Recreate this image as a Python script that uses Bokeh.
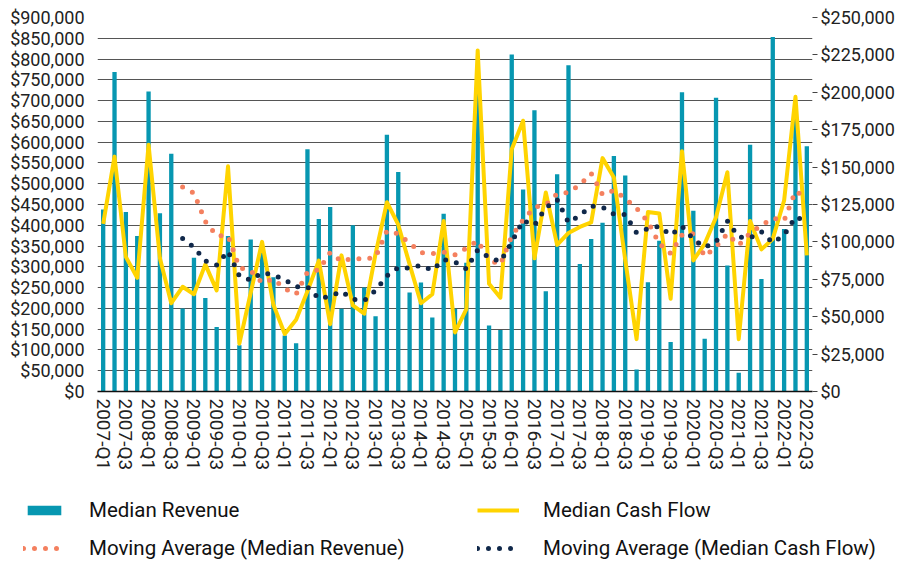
import pandas as pd
from bokeh.plotting import figure
from bokeh.layouts import column
from bokeh.models import (Range1d, LinearAxis, SingleIntervalTicker, NumeralTickFormatter,
                          FixedTicker, Legend, LegendItem, ColumnDataSource)
from bokeh.embed import file_html
from bokeh.resources import INLINE

# ---------------- data ----------------
years = list(range(2007, 2023))
quarters = [f"{y}-Q{q}" for y in years for q in range(1, 5)][:63]

median_revenue = [
    438000, 769000, 432000, 374000, 722000, 429000, 572000, 200000, 322000, 225000,
    155000, 374000, 111000, 366000, 340000, 275000, 135000, 116000, 583000, 415000,
    444000, 199000, 400000, 250000, 181000, 618000, 528000, 238000, 262000, 178000,
    428000, 199000, 310000, 760000, 159000, 148000, 811000, 486000, 677000, 241000,
    523000, 785000, 307000, 367000, 406000, 567000, 520000, 53000, 263000, 363000,
    119000, 720000, 435000, 127000, 707000, 303000, 45000, 594000, 271000, 853000,
    391000, 690000, 590000,
]

median_cash_flow = [
    112000, 157000, 90000, 76000, 165000, 89000, 59000, 70000, 65000, 85000,
    67600, 150500, 32000, 66000, 100000, 58000, 38500, 48000, 67000, 87500,
    45000, 91000, 57500, 52000, 92000, 126500, 111500, 85000, 59000, 65000,
    114000, 39500, 55000, 228000, 72000, 62700, 162000, 181000, 89000, 133000,
    98000, 106000, 110000, 113000, 156000, 143000, 88000, 35000, 120000, 119000,
    62000, 160600, 87600, 98700, 116500, 146600, 35000, 114000, 95000, 102000,
    127700, 197000, 91000,
]

ma_period = 8  # moving-average trendline period
revenue_ma = pd.Series(median_revenue).rolling(ma_period).mean().tolist()
cash_ma = pd.Series(median_cash_flow).rolling(ma_period).mean().tolist()

series_names = ["Median Revenue", "Moving Average (Median Revenue)",
                "Median Cash Flow", "Moving Average (Median Cash Flow)"]

x = list(range(len(quarters)))
src = ColumnDataSource(dict(x=x, rev=median_revenue, cash=median_cash_flow,
                            rev_ma=revenue_ma, cash_ma=cash_ma, q=quarters))

# ---------------- style ----------------
BAR = "#0797B1"
YEL = "#FFD400"
ORG = "#F4805F"
NAV = "#10284A"
TXT = "#222222"
FONT = "Roboto"

p = figure(width=909, height=481, output_backend="svg", toolbar_location=None,
           x_range=Range1d(-0.5, len(quarters) - 0.5), y_range=Range1d(0, 900000),
           min_border_left=97, min_border_right=97, min_border_top=17, min_border_bottom=90)
p.outline_line_color = None
p.background_fill_color = "white"
p.border_fill_color = "white"
p.extra_y_ranges = {"cash": Range1d(0, 250000)}

bar_style = dict(fill_color=BAR, line_color=None)
cash_style = dict(line_color=YEL, line_width=4, line_join="round")
rev_ma_style = dict(line_color=ORG, line_width=5, line_dash="0 11", line_cap="round")
cash_ma_style = dict(line_color=NAV, line_width=5, line_dash="0 11", line_cap="round")

p.vbar(x="x", top="rev", width=0.38, source=src, **bar_style)
p.line(x="x", y="cash", source=src, y_range_name="cash", **cash_style)
p.line(x="x", y="rev_ma", source=src, **rev_ma_style)
p.line(x="x", y="cash_ma", source=src, y_range_name="cash", **cash_ma_style)

# grid
p.xgrid.grid_line_color = None
p.ygrid.grid_line_color = "#555555"
p.ygrid.grid_line_width = 1

# left axis
yl = p.yaxis[0]
yl.ticker = SingleIntervalTicker(interval=50000)
yl.formatter = NumeralTickFormatter(format="$0,0")
yl.axis_line_color = None
yl.major_tick_line_color = None
yl.major_tick_out = 0
yl.major_tick_in = 0
yl.minor_tick_line_color = None
yl.major_label_standoff = 9
yl.major_label_text_font = FONT
yl.major_label_text_font_size = "18px"
yl.major_label_text_color = TXT

# right axis
yr = LinearAxis(y_range_name="cash", ticker=SingleIntervalTicker(interval=25000),
                formatter=NumeralTickFormatter(format="$0,0"))
yr.axis_line_color = None
yr.major_tick_line_color = "#444444"
yr.major_tick_in = 0
yr.major_tick_out = 5
yr.minor_tick_line_color = None
yr.major_label_standoff = 3
yr.major_label_text_font = FONT
yr.major_label_text_font_size = "18px"
yr.major_label_text_color = TXT
p.add_layout(yr, "right")

# bottom axis
tick_idx = [i for i, q in enumerate(quarters) if q.endswith("Q1") or q.endswith("Q3")]
xa = p.xaxis[0]
xa.ticker = FixedTicker(ticks=tick_idx)
xa.major_label_overrides = {i: quarters[i] for i in tick_idx}
xa.major_label_orientation = "vertical"
xa.axis_line_color = "#111111"
xa.axis_line_width = 1.5
xa.major_tick_line_color = None
xa.major_tick_out = 0
xa.major_tick_in = 0
xa.minor_tick_line_color = None
xa.major_label_standoff = 7
xa.major_label_text_font = FONT
xa.major_label_text_font_size = "19px"
xa.major_label_text_color = TXT

# ---------------- legend strip ----------------
lg = figure(width=909, height=80, output_backend="svg", toolbar_location=None,
            x_range=Range1d(-20, -19), y_range=Range1d(0, 1),
            x_axis_type=None, y_axis_type=None,
            min_border_left=0, min_border_right=0, min_border_top=0, min_border_bottom=0)
lg.outline_line_color = None
lg.xgrid.grid_line_color = None
lg.ygrid.grid_line_color = None
lg.border_fill_color = "white"
lg.background_fill_color = "white"

# keep each figure's frame independent (no cross-plot frame alignment)
for fig in (p, lg):
    if "frame_align" in fig.properties():
        fig.frame_align = False

# legend-only renderers: same series, outside the strip's visible range
r_bar = lg.vbar(x="x", top="rev", width=0.38, source=src, **bar_style)
r_rev_ma = lg.line(x="x", y="rev_ma", source=src, **rev_ma_style)
r_cash = lg.line(x="x", y="cash", source=src, **cash_style)
r_cash_ma = lg.line(x="x", y="cash_ma", source=src, **cash_ma_style)


def make_legend(items, loc):
    L = Legend(items=items, location=loc, orientation="vertical")
    L.glyph_width = 42
    L.glyph_height = 12
    L.label_standoff = 24
    L.label_height = 23
    L.spacing = 14
    L.padding = 0
    L.margin = 0
    L.border_line_color = None
    L.background_fill_alpha = 0
    L.label_text_font = FONT
    L.label_text_font_size = "20.5px"
    L.label_text_color = "#111111"
    return L


leg_a = make_legend([LegendItem(label=series_names[0], renderers=[r_bar]),
                     LegendItem(label=series_names[1], renderers=[r_rev_ma])], (23, 1))
leg_b = make_legend([LegendItem(label=series_names[2], renderers=[r_cash]),
                     LegendItem(label=series_names[3], renderers=[r_cash_ma])], (477, 1))
lg.add_layout(leg_a, "center")
lg.add_layout(leg_b, "center")

layout = column(p, lg, spacing=0)
open("out.html", "w").write(file_html(layout, INLINE))
